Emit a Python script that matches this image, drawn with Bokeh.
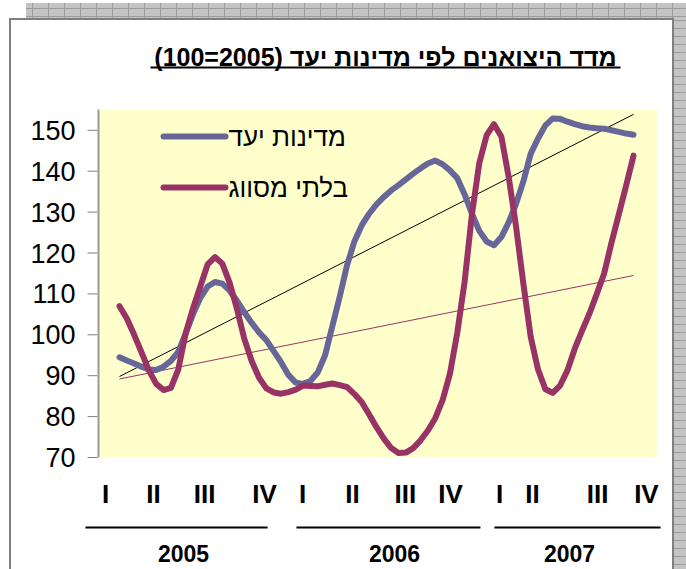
from bokeh.plotting import figure
from bokeh.models import Range1d, FixedTicker, Div
from bokeh.layouts import column, row
from bokeh.core.properties import value
from bokeh.embed import file_html
from bokeh.resources import INLINE

# ---------------- data ----------------
# x: month index, half-month steps, Jan 2005 = 0 ... Dec 2007 = 35
months = [i / 2 for i in range(71)]

target_countries = [  # מדינות יעד
    94.5, 93.7, 93.0, 92.2, 91.5, 91.4, 92.2, 93.6, 95.8, 100.3,
    105.0, 109.0, 111.8, 112.9, 112.5, 110.8, 108.3, 105.5, 102.9, 100.6,
    98.7, 96.0, 93.3, 90.2, 88.3, 88.0, 88.7, 90.8, 95.0, 102.2,
    109.4, 117.1, 122.9, 126.8, 129.6, 131.9, 133.7, 135.3, 136.6, 138.0,
    139.4, 140.7, 141.9, 142.6, 141.7, 140.2, 138.3, 134.3, 129.6, 125.4,
    122.8, 121.9, 123.9, 127.5, 132.0, 137.5, 144.3, 148.0, 151.2, 152.9,
    152.8, 152.1, 151.5, 151.0, 150.7, 150.5, 150.4, 150.0, 149.6, 149.2,
    148.9]

unclassified = [  # בלתי מסווג
    107.0, 104.0, 100.0, 95.7, 91.3, 88.0, 86.5, 87.0, 91.5, 100.3,
    106.4, 111.8, 117.2, 119.0, 117.4, 112.7, 106.3, 99.0, 93.6, 89.5,
    86.9, 85.9, 85.6, 86.0, 86.6, 87.6, 87.5, 87.4, 87.8, 88.1,
    87.7, 87.2, 85.5, 83.5, 80.5, 77.4, 74.6, 72.3, 71.1, 71.2,
    72.3, 74.2, 76.6, 79.6, 84.0, 90.5, 100.5, 113.0, 129.5, 142.0,
    148.8, 151.5, 148.5, 138.6, 126.5, 112.5, 99.5, 91.5, 86.7, 85.8,
    87.6, 91.3, 96.6, 101.0, 105.2, 110.0, 115.0, 122.5, 129.5, 136.5,
    143.8]

trend_x = [0, 35]
trend_target = [89.8, 153.9]
trend_unclassified = [89.2, 114.5]

y_ticks = [70, 80, 90, 100, 110, 120, 130, 140, 150]
quarter_labels = ["I", "II", "III", "IV", "I", "II", "III", "IV", "I", "II", "III", "IV"]
quarter_pos = [-0.95, 2.32, 5.79, 9.87, 12.46, 15.86, 19.47, 22.54, 25.88, 28.12, 32.55, 35.88]
years = ["2005", "2006", "2007"]
year_center = [4.36, 18.73, 30.64]
year_start = [-2.32, 12.05, 25.53]
year_end = [10.08, 24.58, 36.84]

series_names = ["מדינות יעד", "בלתי מסווג"]
title_text = "(100=2005) מדד היצואנים לפי מדינות יעד"

BLUE = "#666699"
RED = "#993366"
FONT = "Liberation Sans"

# ---------------- page-pixel helpers for placing annotations ----------------
PX_PER_MONTH = 14.686
VAL_PER_PX = 0.2445


def mx(px):
    return (px - 119) / PX_PER_MONTH


def vy(py):
    return 70 + (457 - py) * VAL_PER_PX


FIG_LEFT, FIG_TOP = 11, 20
FIG_RIGHT, FIG_BOTTOM = 672, 569
FRAME_LEFT = 82

p = figure(width=FIG_RIGHT - FIG_LEFT, height=FIG_BOTTOM - FIG_TOP,
           output_backend="svg", toolbar_location=None,
           x_range=Range1d(mx(FRAME_LEFT), mx(FIG_RIGHT)),
           y_range=Range1d(vy(FIG_BOTTOM), vy(FIG_TOP)),
           x_axis_location=None, min_border_left=FRAME_LEFT - FIG_LEFT,
           min_border_right=0, min_border_top=0, min_border_bottom=0)
p.background_fill_color = "white"
p.border_fill_color = "white"
p.outline_line_color = None
p.xgrid.visible = False
p.ygrid.visible = False

ax = p.yaxis[0]
ax.ticker = FixedTicker(ticks=y_ticks)
ax.axis_line_color = None
ax.major_tick_line_color = None
ax.minor_tick_line_color = None
ax.major_tick_out = 0
ax.major_tick_in = 0
ax.major_label_standoff = 7
ax.major_label_text_font = FONT
ax.major_label_text_font_size = "27px"
ax.major_label_text_color = "black"

# plot area
p.quad(left=mx(97), right=mx(657), bottom=y_ticks[0], top=vy(109),
       fill_color="#FFFFCC", line_color=None)
# axis line & ticks
p.segment(x0=[mx(98)], x1=[mx(98)], y0=[y_ticks[0]], y1=[vy(109)],
          line_color="#9a9a9a", line_width=2)
p.segment(x0=[mx(87)] * len(y_ticks), x1=[mx(97)] * len(y_ticks), y0=y_ticks, y1=y_ticks,
          line_color="#808080", line_width=1)

# trend lines
p.line(trend_x, trend_target, line_color="black", line_width=1)
p.line(trend_x, trend_unclassified, line_color=RED, line_width=1)

# series
p.line(months, target_countries, line_color=BLUE, line_width=6,
       line_join="round", line_cap="round")
p.line(months, unclassified, line_color=RED, line_width=6,
       line_join="round", line_cap="round")

# legend (drawn)
leg_y = [vy(136), vy(187)]
p.segment(x0=[mx(163)] * 2, x1=[mx(225)] * 2, y0=leg_y, y1=leg_y,
          line_color=[BLUE, RED], line_width=6, line_cap="round")
p.text(x=[mx(228)] * 2, y=leg_y, text=series_names, text_font=value(FONT),
       text_font_size=value("26px"), text_align="left", text_baseline="middle",
       text_color="black")

# title with underline
p.text(x=[mx(385)], y=[vy(56)], text=[title_text], text_font=value(FONT),
       text_font_style="bold", text_font_size=value("25px"), text_align="center",
       text_baseline="middle", text_color="black")
p.segment(x0=[mx(150)], x1=[mx(620)], y0=[vy(67)], y1=[vy(67)],
          line_color="black", line_width=2)

# category labels
p.text(x=quarter_pos, y=[vy(493)] * len(quarter_pos), text=quarter_labels,
       text_font=value(FONT), text_font_style="bold", text_font_size=value("26px"),
       text_align="center", text_baseline="middle", text_color="black")
p.segment(x0=year_start, x1=year_end, y0=[vy(527)] * 3, y1=[vy(527)] * 3,
          line_color="black", line_width=2)
p.text(x=year_center, y=[vy(553)] * 3, text=years, text_font=value(FONT),
       text_font_style="bold", text_font_size=value("23px"), text_align="center",
       text_baseline="middle", text_color="black")

# worksheet surroundings (gray grid strips and the chart-box border)
hatch_v = "repeating-linear-gradient(to right, #9c9c9c 0px, #9c9c9c 1px, transparent 1px, transparent 16px)"
hatch_h = "repeating-linear-gradient(to bottom, #9c9c9c 0px, #9c9c9c 1px, transparent 1px, transparent 8px)"
top = Div(text="", width=686, height=FIG_TOP, margin=(0, 0, 0, 0), styles={
    "background-image": ", ".join([
        "linear-gradient(to right, white 0px, white 9px, transparent 9px)",
        "linear-gradient(to bottom, transparent 0px, transparent 18px, #7f7f7f 18px, #7f7f7f 20px)",
        "linear-gradient(to right, white 0px, white 26px, transparent 26px)",
        "linear-gradient(to bottom, white 0px, white 3px, transparent 3px)",
        hatch_v, hatch_h]),
    "background-size": "100% 100%, 674px 100%, 100% 100%, 100% 100%, 100% 100%, 100% 100%",
    "background-repeat": "no-repeat",
    "background-color": "#c4c4c4"})
left = Div(text="", width=FIG_LEFT, height=FIG_BOTTOM - FIG_TOP, margin=(0, 0, 0, 0), styles={
    "background": "linear-gradient(to right, white 0px, white 9px, #7f7f7f 9px, #7f7f7f 11px)"})
right = Div(text="", width=686 - FIG_RIGHT, height=FIG_BOTTOM - FIG_TOP, margin=(0, 0, 0, 0), styles={
    "background-image": ", ".join([
        "linear-gradient(to right, #7f7f7f 0px, #7f7f7f 2px, transparent 2px)",
        hatch_v, hatch_h]),
    "background-repeat": "no-repeat",
    "background-color": "#c4c4c4"})

layout = column(top, row(left, p, right, spacing=0), spacing=0)

open("out.html", "w").write(file_html(layout, INLINE))
